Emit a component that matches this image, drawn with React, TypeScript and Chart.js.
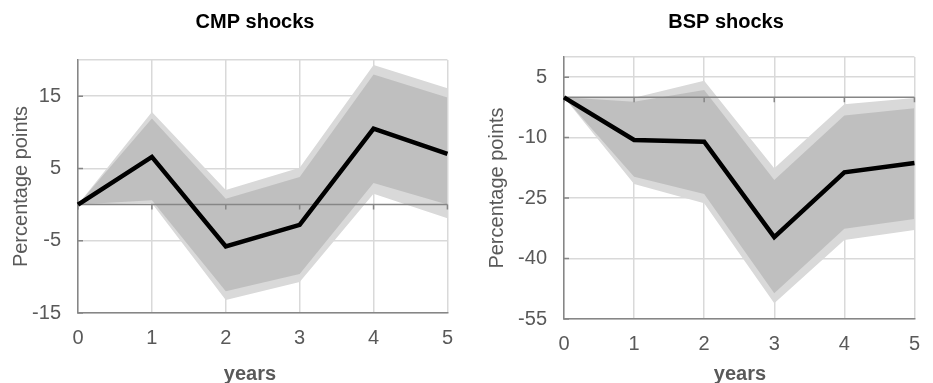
import React, { useEffect, useRef } from 'react';
import { Chart, registerables } from 'chart.js';

Chart.register(...registerables);

// ---------- data ----------
const years = ['0', '1', '2', '3', '4', '5'];

const cmpMedian = [0, 6.6, -5.8, -2.8, 10.5, 7.0];
const cmpInnerUpper = [0, 11.9, 0.8, 3.8, 18.0, 14.8];
const cmpInnerLower = [0, 0.6, -12.0, -9.6, 3.0, 0.0];
const cmpOuterUpper = [0, 12.8, 2.0, 5.1, 19.3, 16.1];
const cmpOuterLower = [0, 0.2, -13.2, -10.7, 1.5, -1.9];
const cmpYTicks = [-15, -5, 5, 15];
const cmpYMin = -15;
const cmpYMax = 20;

const bspMedian = [0, -10.6, -11.0, -34.7, -18.6, -16.3];
const bspInnerUpper = [0, -1.1, 1.8, -20.5, -4.5, -2.7];
const bspInnerLower = [0, -19.7, -24.0, -48.6, -32.6, -30.2];
const bspOuterUpper = [0, -0.1, 4.1, -17.6, -1.7, -0.2];
const bspOuterLower = [0, -21.5, -26.3, -51.1, -35.4, -32.9];
const bspYTicks = [-55, -40, -25, -10, 5];
const bspYMin = -55;
const bspYMax = 10;

// ---------- styles ----------
const FONT = '"Liberation Sans", Arial, Helvetica, sans-serif';
const AXIS = '#868686';
const GRID = '#d9d9d9';
const TEXT = '#595959';
const INNER = '#bfbfbf';
const OUTER = '#d9d9d9';

const deco = {
  id: 'deco',
  beforeDatasetDraw(chart: any, args: any) {
    if (args.index !== 0) return;
    const { ctx, chartArea: a, scales } = chart;
    const x = scales.x;
    const y = scales.y;
    const y0 = y.getPixelForValue(0);
    ctx.save();
    ctx.strokeStyle = AXIS;
    ctx.lineWidth = 1.5;
    ctx.beginPath();
    ctx.moveTo(a.left, y0);
    ctx.lineTo(a.right, y0);
    for (let i = 0; i < years.length; i++) {
      const px = x.getPixelForValue(i);
      ctx.moveTo(px, y0);
      ctx.lineTo(px, y0 + 5);
    }
    ctx.stroke();
    ctx.restore();
  },
  afterDraw(chart: any, _args: any, opts: any) {
    const { ctx, chartArea: a, scales } = chart;
    const y = scales.y;
    ctx.save();
    ctx.strokeStyle = AXIS;
    ctx.lineWidth = 1.5;
    ctx.beginPath();
    (opts.yTicks as number[]).forEach((v) => {
      const py = y.getPixelForValue(v);
      ctx.moveTo(a.left, py);
      ctx.lineTo(a.left + 5, py);
    });
    ctx.stroke();

    ctx.textAlign = 'center';
    ctx.textBaseline = 'alphabetic';
    ctx.font = `bold 20px ${FONT}`;
    ctx.fillStyle = '#000000';
    ctx.fillText(opts.title, opts.titleX, 28);
    ctx.fillStyle = TEXT;
    ctx.fillText('years', opts.xTitleX, 380);

    ctx.font = `20px ${FONT}`;
    ctx.translate(opts.yTitleX, (a.top + a.bottom) / 2);
    ctx.rotate(-Math.PI / 2);
    ctx.fillText('Percentage points', 0, 0);
    ctx.restore();
  },
};

type PanelCfg = {
  title: string;
  median: number[];
  innerUpper: number[];
  innerLower: number[];
  outerUpper: number[];
  outerLower: number[];
  yTicks: number[];
  yMin: number;
  yMax: number;
  padTop: number;
  padRight: number;
  yWidth: number;
  xHeight: number;
  titleX: number;
  xTitleX: number;
  yTitleX: number;
};

function makeConfig(p: PanelCfg): any {
  const band = { borderWidth: 0, borderColor: 'transparent', pointRadius: 0 };
  return {
    type: 'line',
    data: {
      labels: years,
      datasets: [
        { data: p.median, borderColor: '#000000', borderWidth: 4.5, pointRadius: 0, fill: false },
        { ...band, data: p.innerUpper, backgroundColor: INNER, fill: '+1' },
        { ...band, data: p.innerLower, fill: false },
        { ...band, data: p.outerUpper, backgroundColor: OUTER, fill: '+1' },
        { ...band, data: p.outerLower, fill: false },
      ],
    },
    options: {
      responsive: false,
      animation: false,
      layout: { padding: { top: p.padTop, right: p.padRight, left: 0, bottom: 0 } },
      plugins: {
        legend: { display: false },
        tooltip: { enabled: false },
        deco: { title: p.title, titleX: p.titleX, xTitleX: p.xTitleX, yTitleX: p.yTitleX, yTicks: p.yTicks },
      },
      scales: {
        x: {
          type: 'category',
          offset: false,
          grid: { color: GRID, lineWidth: 1.5, drawTicks: false },
          border: { color: AXIS, width: 1.5 },
          ticks: { font: { family: FONT, size: 20 }, color: TEXT, padding: 13, maxRotation: 0 },
          afterFit: (s: any) => {
            s.height = p.xHeight;
          },
        },
        y: {
          type: 'linear',
          min: p.yMin,
          max: p.yMax,
          grid: { color: GRID, lineWidth: 1.5, drawTicks: false },
          border: { color: AXIS, width: 1.5 },
          ticks: {
            font: { family: FONT, size: 20 },
            color: TEXT,
            padding: 17,
            callback: (v: number) => (v === p.yMax ? '' : String(v)),
          },
          afterBuildTicks: (s: any) => {
            s.ticks = [...p.yTicks, p.yMax].map((v) => ({ value: v }));
          },
          afterFit: (s: any) => {
            s.width = p.yWidth;
          },
        },
      },
    },
    plugins: [deco],
  };
}

function Panel({ cfg, left, width }: { cfg: PanelCfg; left: number; width: number }) {
  const ref = useRef<HTMLCanvasElement | null>(null);
  useEffect(() => {
    const chart = new Chart(ref.current as HTMLCanvasElement, makeConfig(cfg));
    return () => chart.destroy();
  }, []);
  return (
    <canvas
      ref={ref}
      width={width}
      height={383}
      style={{ position: 'absolute', left, top: 0, width, height: 383 }}
    />
  );
}

const leftCfg: PanelCfg = {
  title: 'CMP shocks',
  median: cmpMedian,
  innerUpper: cmpInnerUpper,
  innerLower: cmpInnerLower,
  outerUpper: cmpOuterUpper,
  outerLower: cmpOuterLower,
  yTicks: cmpYTicks,
  yMin: cmpYMin,
  yMax: cmpYMax,
  padTop: 60,
  padRight: 11,
  yWidth: 78,
  xHeight: 70,
  titleX: 255,
  xTitleX: 250,
  yTitleX: 27,
};

const rightCfg: PanelCfg = {
  title: 'BSP shocks',
  median: bspMedian,
  innerUpper: bspInnerUpper,
  innerLower: bspInnerLower,
  outerUpper: bspOuterUpper,
  outerLower: bspOuterLower,
  yTicks: bspYTicks,
  yMin: bspYMin,
  yMax: bspYMax,
  padTop: 57,
  padRight: 13,
  yWidth: 98,
  xHeight: 64,
  titleX: 260,
  xTitleX: 274,
  yTitleX: 37,
};

export default function App() {
  return (
    <div style={{ position: 'fixed', left: 0, top: 0, width: 933, height: 383, background: '#ffffff' }}>
      <Panel cfg={leftCfg} left={0} width={466} />
      <Panel cfg={rightCfg} left={466} width={467} />
    </div>
  );
}
